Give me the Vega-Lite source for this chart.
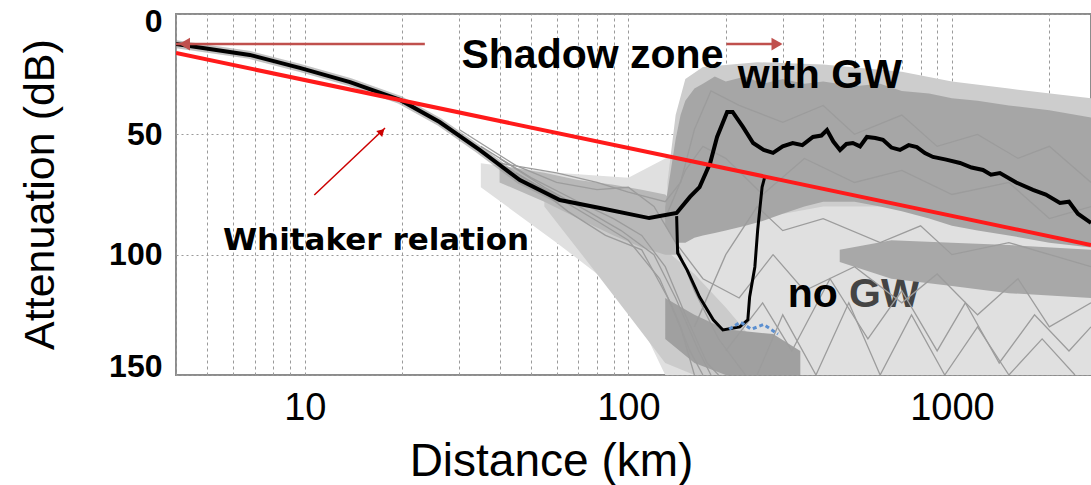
{
  "$schema": "https://vega.github.io/schema/vega-lite/v6.json",
  "autosize": {"type": "none"},
  "padding": {"left": 176, "top": 14, "right": 0, "bottom": 110},
  "width": 915,
  "height": 361,
  "background": "white",
  "config": {
    "view": {"stroke": "#8c8c8c", "strokeWidth": 2},
    "font": "Liberation Sans"
  },
  "datasets": {
    "bands": [
      {"band": "scatter", "x": 35, "lo": 62, "hi": 72},
      {"band": "scatter", "x": 60, "lo": 66, "hi": 95},
      {"band": "scatter", "x": 100, "lo": 68, "hi": 118},
      {"band": "scatter", "x": 130, "lo": 60, "hi": 150},
      {"band": "scatter", "x": 200, "lo": 45, "hi": 150},
      {"band": "scatter", "x": 500, "lo": 50, "hi": 150},
      {"band": "scatter", "x": 1000, "lo": 55, "hi": 150},
      {"band": "scatter", "x": 2690, "lo": 60, "hi": 150},
      {"band": "fan", "x": 55, "lo": 76, "hi": 80},
      {"band": "fan", "x": 80, "lo": 86, "hi": 108},
      {"band": "fan", "x": 100, "lo": 92, "hi": 125},
      {"band": "fan", "x": 130, "lo": 98, "hi": 145},
      {"band": "fan", "x": 160, "lo": 108, "hi": 150},
      {"band": "fan", "x": 200, "lo": 122, "hi": 150},
      {"band": "fan", "x": 260, "lo": 140, "hi": 150},
      {"band": "left", "x": 40, "lo": 63, "hi": 70},
      {"band": "left", "x": 55, "lo": 66, "hi": 78},
      {"band": "left", "x": 70, "lo": 69, "hi": 85},
      {"band": "left", "x": 90, "lo": 71, "hi": 92},
      {"band": "left", "x": 110, "lo": 73, "hi": 97},
      {"band": "left", "x": 130, "lo": 75, "hi": 100},
      {"band": "left", "x": 142, "lo": 80, "hi": 100},
      {"band": "nogw_low", "x": 130, "lo": 118, "hi": 135},
      {"band": "nogw_low", "x": 160, "lo": 125, "hi": 145},
      {"band": "nogw_low", "x": 200, "lo": 131, "hi": 150},
      {"band": "nogw_low", "x": 280, "lo": 133, "hi": 150},
      {"band": "nogw_low", "x": 340, "lo": 140, "hi": 150},
      {"band": "nogw_right", "x": 450, "lo": 98, "hi": 103},
      {"band": "nogw_right", "x": 650, "lo": 94, "hi": 110},
      {"band": "nogw_right", "x": 1000, "lo": 95, "hi": 113},
      {"band": "nogw_right", "x": 1500, "lo": 96, "hi": 116},
      {"band": "nogw_right", "x": 2690, "lo": 98, "hi": 118},
      {"band": "gwhalo", "x": 132, "lo": 70, "hi": 85},
      {"band": "gwhalo", "x": 140, "lo": 42, "hi": 90},
      {"band": "gwhalo", "x": 150, "lo": 27, "hi": 90},
      {"band": "gwhalo", "x": 170, "lo": 22, "hi": 90},
      {"band": "gwhalo", "x": 250, "lo": 20, "hi": 85},
      {"band": "gwhalo", "x": 400, "lo": 21, "hi": 80},
      {"band": "gwhalo", "x": 700, "lo": 24, "hi": 80},
      {"band": "gwhalo", "x": 1000, "lo": 28, "hi": 85},
      {"band": "gwhalo", "x": 1500, "lo": 31, "hi": 90},
      {"band": "gwhalo", "x": 2690, "lo": 35, "hi": 95},
      {"band": "gw", "x": 130, "lo": 80, "hi": 88},
      {"band": "gw", "x": 140, "lo": 52, "hi": 95},
      {"band": "gw", "x": 145, "lo": 42, "hi": 95},
      {"band": "gw", "x": 150, "lo": 36, "hi": 95},
      {"band": "gw", "x": 160, "lo": 31, "hi": 93},
      {"band": "gw", "x": 170, "lo": 29, "hi": 92},
      {"band": "gw", "x": 185, "lo": 26, "hi": 91},
      {"band": "gw", "x": 200, "lo": 28, "hi": 90},
      {"band": "gw", "x": 230, "lo": 26, "hi": 88},
      {"band": "gw", "x": 260, "lo": 29, "hi": 86},
      {"band": "gw", "x": 300, "lo": 27, "hi": 83},
      {"band": "gw", "x": 350, "lo": 29, "hi": 80},
      {"band": "gw", "x": 400, "lo": 28, "hi": 78},
      {"band": "gw", "x": 500, "lo": 30, "hi": 78},
      {"band": "gw", "x": 600, "lo": 29, "hi": 80},
      {"band": "gw", "x": 700, "lo": 32, "hi": 82},
      {"band": "gw", "x": 850, "lo": 33, "hi": 85},
      {"band": "gw", "x": 1000, "lo": 35, "hi": 88},
      {"band": "gw", "x": 1200, "lo": 36, "hi": 90},
      {"band": "gw", "x": 1500, "lo": 38, "hi": 92},
      {"band": "gw", "x": 2000, "lo": 40, "hi": 95},
      {"band": "gw", "x": 2690, "lo": 43, "hi": 97}
    ],
    "traces": [
      {"id": "t1", "x": 30, "y": 48}, {"id": "t1", "x": 45, "y": 63}, {"id": "t1", "x": 60, "y": 70}, {"id": "t1", "x": 80, "y": 73}, {"id": "t1", "x": 100, "y": 72}, {"id": "t1", "x": 120, "y": 80}, {"id": "t1", "x": 140, "y": 95}, {"id": "t1", "x": 160, "y": 115}, {"id": "t1", "x": 190, "y": 135}, {"id": "t1", "x": 230, "y": 150},
      {"id": "t2", "x": 35, "y": 55}, {"id": "t2", "x": 50, "y": 68}, {"id": "t2", "x": 70, "y": 78}, {"id": "t2", "x": 90, "y": 85}, {"id": "t2", "x": 110, "y": 92}, {"id": "t2", "x": 130, "y": 105}, {"id": "t2", "x": 150, "y": 125}, {"id": "t2", "x": 175, "y": 145}, {"id": "t2", "x": 190, "y": 150},
      {"id": "t3", "x": 40, "y": 60}, {"id": "t3", "x": 55, "y": 72}, {"id": "t3", "x": 75, "y": 82}, {"id": "t3", "x": 95, "y": 90}, {"id": "t3", "x": 120, "y": 100}, {"id": "t3", "x": 140, "y": 118}, {"id": "t3", "x": 165, "y": 140}, {"id": "t3", "x": 180, "y": 150},
      {"id": "t4", "x": 45, "y": 66}, {"id": "t4", "x": 60, "y": 76}, {"id": "t4", "x": 80, "y": 86}, {"id": "t4", "x": 100, "y": 94}, {"id": "t4", "x": 125, "y": 110}, {"id": "t4", "x": 145, "y": 130}, {"id": "t4", "x": 160, "y": 150},
      {"id": "t5", "x": 50, "y": 70}, {"id": "t5", "x": 65, "y": 82}, {"id": "t5", "x": 85, "y": 92}, {"id": "t5", "x": 110, "y": 98}, {"id": "t5", "x": 135, "y": 120}, {"id": "t5", "x": 155, "y": 140}, {"id": "t5", "x": 170, "y": 150},
      {"id": "t6", "x": 40, "y": 62}, {"id": "t6", "x": 60, "y": 66}, {"id": "t6", "x": 80, "y": 70}, {"id": "t6", "x": 100, "y": 74}, {"id": "t6", "x": 130, "y": 78}, {"id": "t6", "x": 145, "y": 70}, {"id": "t6", "x": 160, "y": 48}, {"id": "t6", "x": 180, "y": 32}, {"id": "t6", "x": 220, "y": 38}, {"id": "t6", "x": 300, "y": 45}, {"id": "t6", "x": 400, "y": 38}, {"id": "t6", "x": 500, "y": 50}, {"id": "t6", "x": 700, "y": 42}, {"id": "t6", "x": 900, "y": 55}, {"id": "t6", "x": 1200, "y": 50}, {"id": "t6", "x": 1600, "y": 60}, {"id": "t6", "x": 2000, "y": 55}, {"id": "t6", "x": 2690, "y": 70},
      {"id": "t7", "x": 130, "y": 85}, {"id": "t7", "x": 150, "y": 65}, {"id": "t7", "x": 170, "y": 55}, {"id": "t7", "x": 200, "y": 60}, {"id": "t7", "x": 260, "y": 75}, {"id": "t7", "x": 350, "y": 60}, {"id": "t7", "x": 500, "y": 70}, {"id": "t7", "x": 700, "y": 65}, {"id": "t7", "x": 1000, "y": 75}, {"id": "t7", "x": 1500, "y": 70}, {"id": "t7", "x": 2000, "y": 85}, {"id": "t7", "x": 2690, "y": 80},
      {"id": "t8", "x": 140, "y": 95}, {"id": "t8", "x": 170, "y": 110}, {"id": "t8", "x": 220, "y": 118}, {"id": "t8", "x": 280, "y": 100}, {"id": "t8", "x": 350, "y": 115}, {"id": "t8", "x": 500, "y": 105}, {"id": "t8", "x": 700, "y": 120}, {"id": "t8", "x": 900, "y": 108}, {"id": "t8", "x": 1200, "y": 125}, {"id": "t8", "x": 1600, "y": 110}, {"id": "t8", "x": 2000, "y": 130}, {"id": "t8", "x": 2690, "y": 120},
      {"id": "t9", "x": 200, "y": 140}, {"id": "t9", "x": 260, "y": 120}, {"id": "t9", "x": 320, "y": 140}, {"id": "t9", "x": 420, "y": 110}, {"id": "t9", "x": 550, "y": 135}, {"id": "t9", "x": 700, "y": 115}, {"id": "t9", "x": 900, "y": 140}, {"id": "t9", "x": 1100, "y": 120}, {"id": "t9", "x": 1400, "y": 145}, {"id": "t9", "x": 1800, "y": 125}, {"id": "t9", "x": 2300, "y": 140}, {"id": "t9", "x": 2690, "y": 130},
      {"id": "t10", "x": 250, "y": 150}, {"id": "t10", "x": 300, "y": 125}, {"id": "t10", "x": 380, "y": 150}, {"id": "t10", "x": 480, "y": 120}, {"id": "t10", "x": 600, "y": 150}, {"id": "t10", "x": 750, "y": 125}, {"id": "t10", "x": 950, "y": 150}, {"id": "t10", "x": 1200, "y": 130}, {"id": "t10", "x": 1500, "y": 150}, {"id": "t10", "x": 1900, "y": 135}, {"id": "t10", "x": 2400, "y": 150},
      {"id": "t11", "x": 160, "y": 130}, {"id": "t11", "x": 200, "y": 100}, {"id": "t11", "x": 250, "y": 80}, {"id": "t11", "x": 300, "y": 90}, {"id": "t11", "x": 400, "y": 85}, {"id": "t11", "x": 600, "y": 95}, {"id": "t11", "x": 800, "y": 88}, {"id": "t11", "x": 1000, "y": 100}, {"id": "t11", "x": 1500, "y": 95}, {"id": "t11", "x": 2690, "y": 105}
    ],
    "black": [
      {"x": 4.0, "y": 12.5}, {"x": 6.76, "y": 17.0}, {"x": 9.65, "y": 22.4}, {"x": 13.8, "y": 28.3},
      {"x": 19.7, "y": 35.7}, {"x": 26.1, "y": 44.9}, {"x": 34.7, "y": 56.5}, {"x": 46.2, "y": 69.0},
      {"x": 61.4, "y": 77.3}, {"x": 81.7, "y": 80.6}, {"x": 116, "y": 84.8}, {"x": 141, "y": 82.7},
      {"x": 155, "y": 76.0}, {"x": 166, "y": 71.9}, {"x": 179, "y": 61.9}, {"x": 188, "y": 51.1},
      {"x": 202, "y": 40.7}, {"x": 210, "y": 40.7}, {"x": 226, "y": 46.9}, {"x": 243, "y": 53.6},
      {"x": 262, "y": 56.5}, {"x": 280, "y": 57.7}, {"x": 300, "y": 55.0}, {"x": 322, "y": 53.6},
      {"x": 345, "y": 54.5}, {"x": 372, "y": 51.1}, {"x": 395, "y": 50.5}, {"x": 411, "y": 48.2},
      {"x": 430, "y": 53.0}, {"x": 451, "y": 56.5}, {"x": 472, "y": 54.0}, {"x": 494, "y": 53.6},
      {"x": 520, "y": 55.0}, {"x": 546, "y": 51.1}, {"x": 580, "y": 51.5}, {"x": 612, "y": 52.3},
      {"x": 650, "y": 55.5}, {"x": 691, "y": 56.5}, {"x": 735, "y": 54.5}, {"x": 779, "y": 55.3},
      {"x": 825, "y": 57.8}, {"x": 874, "y": 59.4}, {"x": 960, "y": 60.5}, {"x": 1059, "y": 61.9},
      {"x": 1150, "y": 63.8}, {"x": 1247, "y": 64.8}, {"x": 1320, "y": 66.8}, {"x": 1407, "y": 66.1},
      {"x": 1580, "y": 70.0}, {"x": 1780, "y": 73.1}, {"x": 1950, "y": 75.0}, {"x": 2157, "y": 78.5},
      {"x": 2300, "y": 78.0}, {"x": 2450, "y": 83.0}, {"x": 2690, "y": 86.8}
    ],
    "nogw": [
      {"x": 141, "y": 84.0}, {"x": 142, "y": 99.3}, {"x": 152, "y": 106.4}, {"x": 166, "y": 117.6},
      {"x": 183, "y": 127.1}, {"x": 196, "y": 131.3}, {"x": 221, "y": 130.0}, {"x": 234, "y": 127.1},
      {"x": 237, "y": 117.6}, {"x": 246, "y": 105.1}, {"x": 251, "y": 89.7}, {"x": 259, "y": 71.9},
      {"x": 264, "y": 67.7}
    ],
    "blue": [
      {"x": 205, "y": 131}, {"x": 222, "y": 128}, {"x": 240, "y": 131}, {"x": 262, "y": 129}, {"x": 290, "y": 133}
    ],
    "red": [{"x": 4, "y": 16.2}, {"x": 2690, "y": 96}],
    "arrows": [
      {"name": "left", "x": 4.0, "y": 12.5, "x2": 23.5, "y2": 12.5},
      {"name": "right", "x": 201, "y": 12.5, "x2": 295, "y2": 12.5}
    ],
    "whitArrow": [{"x": 10.7, "y": 75.2, "x2": 17.7, "y2": 47.4}]
  },
  "layer": [
    {
      "data": {"name": "bands"},
      "transform": [{"filter": "datum.band == 'scatter'"}],
      "mark": {"type": "area", "color": "#e0e0e0", "clip": true},
      "encoding": {
        "x": {"field": "x", "type": "quantitative", "scale": {"type": "log", "domain": [4, 2690], "nice": false},
          "axis": {
            "values": [4,5,6,7,8,9,10,20,30,40,50,60,70,80,90,100,200,300,400,500,600,700,800,900,1000,2000],
            "labelExpr": "datum.value == 10 || datum.value == 100 || datum.value == 1000 ? format(datum.value, 'd') : ''",
            "labelFontSize": 38, "labelColor": "black", "labelPadding": 14, "labelFont": "Liberation Sans",
            "ticks": false, "domain": false,
            "grid": true, "gridColor": "#9a9a9a", "gridDash": [3, 3], "gridWidth": 1,
            "title": "Distance (km)", "titleFontSize": 46, "titleFontWeight": "normal", "titleColor": "black",
            "titleFont": "Liberation Sans", "titleX": 375, "titleY": 100, "titleBaseline": "alphabetic", "titleAlign": "center"
          }},
        "y": {"field": "lo", "type": "quantitative", "scale": {"domain": [0, 150], "reverse": true, "nice": false},
          "axis": {
            "values": [0, 50, 100, 150],
            "labelFontSize": 32, "labelFontWeight": "bold", "labelColor": "black", "labelPadding": 14,
            "labelFlush": true, "labelFlushOffset": 8,
            "labelFont": "Liberation Sans",
            "ticks": false, "domain": false,
            "grid": true, "gridColor": "#9a9a9a", "gridDash": [2, 3], "gridWidth": 1,
            "title": "Attenuation (dB)", "titleFontSize": 43, "titleFontWeight": "normal", "titleColor": "black",
            "titleFont": "Liberation Sans", "titleX": -123, "titleY": 180, "titleBaseline": "alphabetic", "titleAlign": "center", "titleAngle": -90
          }},
        "y2": {"field": "hi"}
      }
    },
    {
      "data": {"name": "bands"},
      "transform": [{"filter": "datum.band == 'fan'"}],
      "mark": {"type": "area", "color": "#cbcbcb", "clip": true},
      "encoding": {"x": {"field": "x", "type": "quantitative"}, "y": {"field": "lo", "type": "quantitative"}, "y2": {"field": "hi"}}
    },
    {
      "data": {"name": "bands"},
      "transform": [{"filter": "datum.band == 'left'"}],
      "mark": {"type": "area", "color": "#b8b8b8", "clip": true},
      "encoding": {"x": {"field": "x", "type": "quantitative"}, "y": {"field": "lo", "type": "quantitative"}, "y2": {"field": "hi"}}
    },
    {
      "data": {"name": "bands"},
      "transform": [{"filter": "datum.band == 'nogw_low'"}],
      "mark": {"type": "area", "color": "#a0a0a0", "clip": true},
      "encoding": {"x": {"field": "x", "type": "quantitative"}, "y": {"field": "lo", "type": "quantitative"}, "y2": {"field": "hi"}}
    },
    {
      "data": {"name": "bands"},
      "transform": [{"filter": "datum.band == 'gwhalo'"}],
      "mark": {"type": "area", "color": "#cdcdcd", "clip": true},
      "encoding": {"x": {"field": "x", "type": "quantitative"}, "y": {"field": "lo", "type": "quantitative"}, "y2": {"field": "hi"}}
    },
    {
      "data": {"values": [{"x": 481, "y": 121.7, "label": "GW"}]},
      "mark": {"type": "text", "align": "left", "baseline": "alphabetic", "fontSize": 41, "fontWeight": "bold", "font": "Liberation Sans", "color": "#444444"},
      "encoding": {"x": {"field": "x", "type": "quantitative"}, "y": {"field": "y", "type": "quantitative"}, "text": {"field": "label"}}
    },
    {
      "data": {"name": "bands"},
      "transform": [{"filter": "datum.band == 'nogw_right'"}],
      "mark": {"type": "area", "color": "#a8a8a8", "clip": true},
      "encoding": {"x": {"field": "x", "type": "quantitative"}, "y": {"field": "lo", "type": "quantitative"}, "y2": {"field": "hi"}}
    },
    {
      "data": {"name": "bands"},
      "transform": [{"filter": "datum.band == 'gw'"}],
      "mark": {"type": "area", "color": "#a6a6a6", "clip": true},
      "encoding": {"x": {"field": "x", "type": "quantitative"}, "y": {"field": "lo", "type": "quantitative"}, "y2": {"field": "hi"}}
    },
    {
      "data": {"name": "traces"},
      "mark": {"type": "line", "color": "#9c9c9c", "strokeWidth": 1.3, "clip": true},
      "encoding": {"x": {"field": "x", "type": "quantitative"}, "y": {"field": "y", "type": "quantitative"}, "detail": {"field": "id"}}
    },
    {
      "data": {"values": [{"x": 311, "y": 121.7, "label": "no"}]},
      "mark": {"type": "text", "align": "left", "baseline": "alphabetic", "fontSize": 41, "fontWeight": "bold", "font": "Liberation Sans", "color": "black"},
      "encoding": {"x": {"field": "x", "type": "quantitative"}, "y": {"field": "y", "type": "quantitative"}, "text": {"field": "label"}}
    },
    {
      "data": {"name": "black"},
      "transform": [{"filter": "datum.x <= 62"}],
      "mark": {"type": "line", "color": "#9a9a9a", "strokeWidth": 8, "opacity": 0.6, "clip": true},
      "encoding": {"x": {"field": "x", "type": "quantitative"}, "y": {"field": "y", "type": "quantitative"}}
    },
    {
      "data": {"name": "black"},
      "mark": {"type": "line", "color": "black", "strokeWidth": 4, "clip": true},
      "encoding": {"x": {"field": "x", "type": "quantitative"}, "y": {"field": "y", "type": "quantitative"}}
    },
    {
      "data": {"name": "nogw"},
      "mark": {"type": "line", "color": "black", "strokeWidth": 3, "clip": true},
      "encoding": {"x": {"field": "x", "type": "quantitative"}, "y": {"field": "y", "type": "quantitative"}}
    },
    {
      "data": {"name": "blue"},
      "mark": {"type": "line", "color": "#5b8fd0", "strokeWidth": 3, "strokeDash": [4, 3], "clip": true},
      "encoding": {"x": {"field": "x", "type": "quantitative"}, "y": {"field": "y", "type": "quantitative"}}
    },
    {
      "data": {"name": "red"},
      "mark": {"type": "line", "color": "#ff1a1a", "strokeWidth": 4, "clip": true},
      "encoding": {"x": {"field": "x", "type": "quantitative"}, "y": {"field": "y", "type": "quantitative"}}
    },
    {
      "data": {"values": [{"x": 30.5, "y": 22.4, "label": "Shadow zone"}, {"x": 218, "y": 30.7, "label": "with GW"}]},
      "mark": {"type": "text", "align": "left", "baseline": "alphabetic", "fontSize": 41, "fontWeight": "bold", "font": "Liberation Sans", "color": "black"},
      "encoding": {"x": {"field": "x", "type": "quantitative"}, "y": {"field": "y", "type": "quantitative"}, "text": {"field": "label"}}
    },
    {
      "data": {"values": [{"x": 16.6, "y": 98.0, "label": "Whitaker relation"}]},
      "mark": {"type": "text", "align": "center", "baseline": "alphabetic", "fontSize": 31, "fontWeight": "bold", "font": "DejaVu Sans", "color": "black"},
      "encoding": {"x": {"field": "x", "type": "quantitative"}, "y": {"field": "y", "type": "quantitative"}, "text": {"field": "label"}}
    },
    {
      "data": {"name": "arrows"},
      "mark": {"type": "rule", "color": "#c0504d", "strokeWidth": 2.5},
      "encoding": {"x": {"field": "x", "type": "quantitative"}, "x2": {"field": "x2"}, "y": {"field": "y", "type": "quantitative"}, "y2": {"field": "y2"}}
    },
    {
      "data": {"values": [{"x": 4.25, "y": 12.5}]},
      "mark": {"type": "point", "shape": "triangle-left", "filled": true, "color": "#c0504d", "size": 160, "opacity": 1},
      "encoding": {"x": {"field": "x", "type": "quantitative"}, "y": {"field": "y", "type": "quantitative"}}
    },
    {
      "data": {"values": [{"x": 288, "y": 12.5}]},
      "mark": {"type": "point", "shape": "triangle-right", "filled": true, "color": "#c0504d", "size": 160, "opacity": 1},
      "encoding": {"x": {"field": "x", "type": "quantitative"}, "y": {"field": "y", "type": "quantitative"}}
    },
    {
      "data": {"name": "whitArrow"},
      "mark": {"type": "rule", "color": "#cc0000", "strokeWidth": 1.5},
      "encoding": {"x": {"field": "x", "type": "quantitative"}, "x2": {"field": "x2"}, "y": {"field": "y", "type": "quantitative"}, "y2": {"field": "y2"}}
    },
    {
      "data": {"values": [{"x": 17.3, "y": 48.8}]},
      "mark": {"type": "point", "shape": "triangle-up", "angle": 45, "filled": true, "color": "#cc0000", "size": 70, "opacity": 1},
      "encoding": {"x": {"field": "x", "type": "quantitative"}, "y": {"field": "y", "type": "quantitative"}}
    }
  ]
}
